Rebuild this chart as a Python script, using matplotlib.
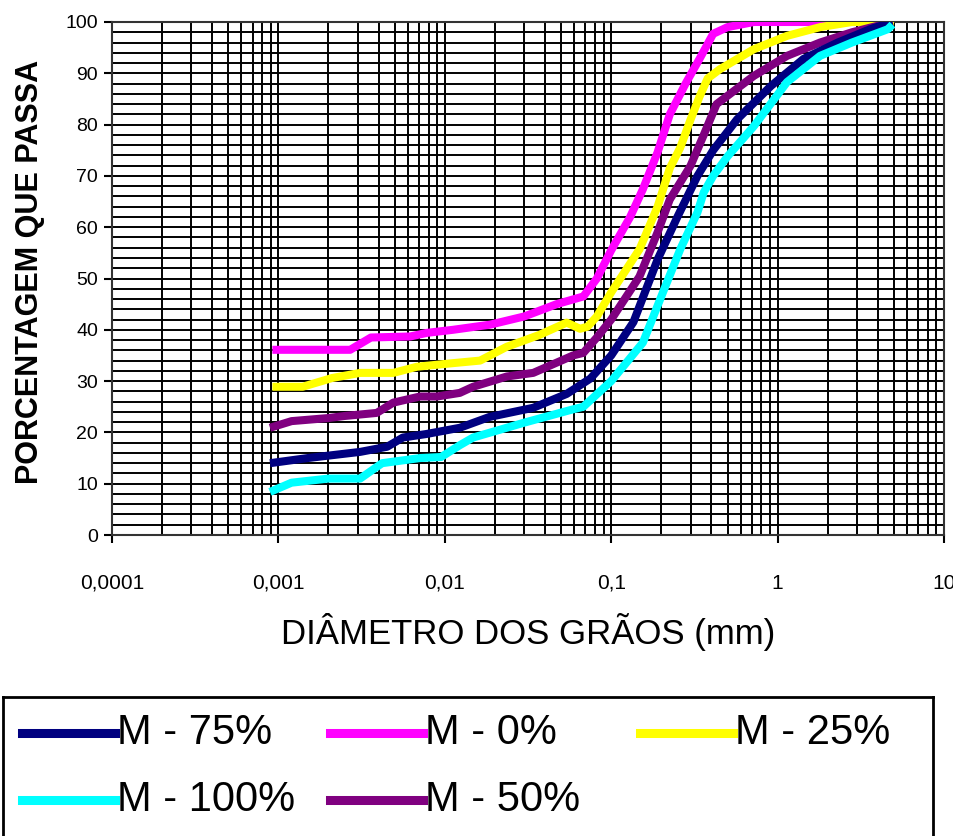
import matplotlib
matplotlib.use("Agg")
import matplotlib.pyplot as plt
from matplotlib.ticker import LogLocator, MultipleLocator, NullFormatter
from matplotlib.lines import Line2D

plt.rcParams['font.family'] = ['Liberation Sans', 'DejaVu Sans']

# curvas granulometricas (diametro em mm, % que passa)
d_m0 = [0.00092, 0.0027, 0.0036, 0.0062, 0.0078, 0.0112, 0.0187, 0.03, 0.047, 0.068, 0.082,
        0.10, 0.13, 0.155, 0.19, 0.225, 0.28, 0.342, 0.41, 0.5, 0.72, 5.0]
p_m0 = [36.1, 36.1, 38.5, 38.7, 39.4, 40.0, 41.0, 42.6, 45.0, 46.5, 50.0,
        55.5, 62.0, 67.4, 74.6, 82.0, 88.0, 93.0, 97.7, 99.0, 100, 100]

d_m25 = [0.00092, 0.0014, 0.0021, 0.0031, 0.0049, 0.0068, 0.0112, 0.0163, 0.0236, 0.037, 0.054,
         0.065, 0.072, 0.082, 0.1, 0.148, 0.19, 0.225, 0.26, 0.3, 0.34, 0.38, 0.45, 0.72, 1.14, 1.8, 2.8, 5.0]
p_m25 = [28.9, 28.9, 30.6, 31.6, 31.6, 32.8, 33.5, 34.0, 36.7, 39.0, 41.4,
         40.2, 40.6, 42.6, 47.3, 55.7, 64.0, 71.5, 75.5, 81.0, 85.5, 89.0, 90.8, 94.7, 97.3, 99.0, 100, 100]

d_m50 = [0.00089, 0.0012, 0.002, 0.0025, 0.0039, 0.0049, 0.0071, 0.009, 0.0123, 0.0148, 0.0236, 0.034,
         0.059, 0.068, 0.082, 0.1, 0.148, 0.19, 0.225, 0.3, 0.36, 0.43, 0.72, 1.14, 1.8, 2.8, 4.9]
p_m50 = [20.9, 22.2, 22.8, 23.2, 23.8, 25.8, 27.0, 27.0, 27.7, 28.9, 30.9, 31.6,
         35.0, 35.5, 38.5, 42.0, 50.4, 59.0, 65.4, 72.0, 78.0, 84.0, 89.5, 93.4, 96.0, 98.0, 100]

d_m75 = [0.00089, 0.0015, 0.0031, 0.0045, 0.0056, 0.0078, 0.0123, 0.0185, 0.034, 0.054, 0.075,
         0.1, 0.136, 0.19, 0.25, 0.33, 0.41, 0.57, 0.91, 1.43, 2.3, 3.6, 4.9]
p_m75 = [14.0, 15.0, 16.2, 17.2, 19.0, 19.7, 20.9, 23.0, 24.8, 27.5, 30.5,
         35.0, 41.5, 53.7, 62.0, 70.0, 75.0, 81.0, 87.5, 92.8, 96.0, 98.6, 100]

d_m100 = [0.00089, 0.0012, 0.002, 0.0031, 0.0042, 0.0071, 0.0095, 0.0123, 0.0148, 0.03, 0.059, 0.068,
          0.1, 0.155, 0.2, 0.26, 0.33, 0.36, 0.41, 0.5, 0.72, 1.14, 1.8, 2.8, 4.6, 4.9]
p_m100 = [8.4, 10.2, 11.0, 11.0, 14.0, 15.0, 15.2, 17.5, 19.0, 21.9, 24.5, 25.0,
          30.0, 37.5, 46.5, 55.7, 62.9, 66.8, 70.0, 73.8, 79.7, 88.3, 93.4, 96.0, 98.6, 99.5]

# ordem da legenda (linha por linha)
series = [
    ('M - 75%', d_m75, p_m75, '#000080'),
    ('M - 0%', d_m0, p_m0, '#FF00FF'),
    ('M - 25%', d_m25, p_m25, '#FFFF00'),
    ('M - 100%', d_m100, p_m100, '#00FFFF'),
    ('M - 50%', d_m50, p_m50, '#800080'),
]
ordem_desenho = ['M - 0%', 'M - 25%', 'M - 50%', 'M - 75%', 'M - 100%']

xticks = [0.0001, 0.001, 0.01, 0.1, 1, 10]
xlabels = ['0,0001', '0,001', '0,01', '0,1', '1', '10']

fig = plt.figure(figsize=(9.54, 8.36), dpi=100)
ax = fig.add_axes([112 / 954, 1 - 535 / 836, 832 / 954, 513 / 836])

por_nome = {s[0]: s for s in series}
for nome in ordem_desenho:
    _, d, p, cor = por_nome[nome]
    ax.plot(d, p, color=cor, lw=5.8, solid_capstyle='butt', zorder=3)

ax.set_xscale('log')
ax.set_xlim(0.0001, 10)
ax.set_ylim(0, 100)
ax.set_xticks(xticks)
ax.set_xticklabels(xlabels, fontsize=15)
ax.xaxis.set_minor_locator(LogLocator(base=10, subs=range(2, 10)))
ax.xaxis.set_minor_formatter(NullFormatter())
ax.set_yticks(range(0, 101, 10))
ax.tick_params(axis='y', labelsize=14)
ax.yaxis.set_minor_locator(MultipleLocator(2))
ax.tick_params(which='major', direction='out', length=6, width=1.5, color='black', pad=22)
ax.tick_params(axis='y', which='major', pad=4)
ax.tick_params(which='minor', length=0)
ax.grid(which='both', color='black', lw=1.4)
for s in ax.spines.values():
    s.set_linewidth(1.5)
    s.set_color('#333333')

fig.text(30 / 954, 1 - 272 / 836, 'PORCENTAGEM QUE PASSA', rotation=90,
         fontsize=22, fontweight='bold', ha='center', va='center')
fig.text(528 / 954, 1 - 632 / 836, 'DIÂMETRO DOS GRÃOS (mm)', fontsize=25,
         ha='center', va='center')

# legenda no estilo do excel, colunas de largura igual
lax = fig.add_axes([3 / 954, -20 / 836, 930 / 954, (836 - 697 + 20) / 836])
lax.set_xlim(0, 930)
lax.set_ylim(-20, 139)
lax.set_xticks([])
lax.set_yticks([])
for s in lax.spines.values():
    s.set_linewidth(2)
col_x = [19, 327, 637]
row_y = [139 - 36, 139 - 103]
for i, (nome, _, _, cor) in enumerate(series):
    cx = col_x[i % 3]
    cy = row_y[i // 3]
    lax.add_line(Line2D([cx, cx + 93], [cy, cy], color=cor, lw=6.5, solid_capstyle='projecting'))
    lax.text(cx + 95, cy, nome, fontsize=30, va='center', ha='left')

fig.savefig('out.png', dpi=100)
